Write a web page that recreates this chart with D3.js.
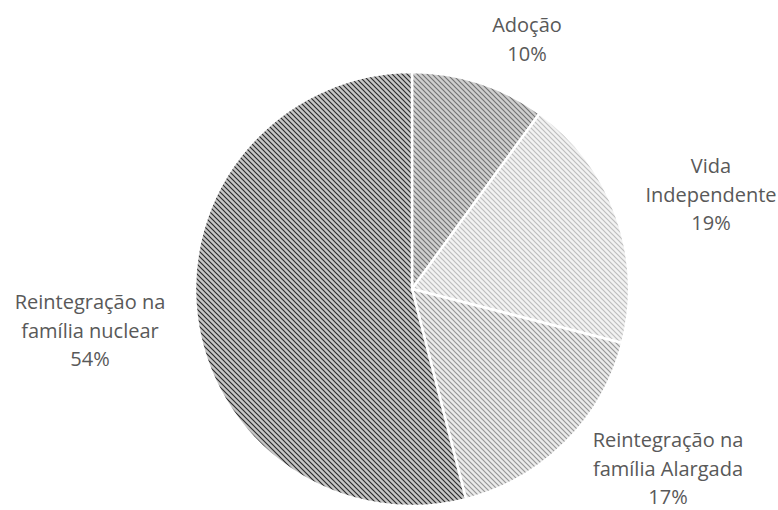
<!DOCTYPE html>
<html>
<head>
<meta charset="utf-8">
<script src="https://cdn.jsdelivr.net/npm/d3@7"></script>
<style>
  body { margin: 0; background: #fff; }
  svg { display: block; }
</style>
</head>
<body>
<script>
// data
var categories = ["Adoção", "Vida Independente", "Reintegração na família Alargada", "Reintegração na família nuclear"];
var values = [10, 19, 17, 54];
var labelLines = [["Adoção", "10%"], ["Vida", "Independente", "19%"], ["Reintegração na", "família Alargada", "17%"], ["Reintegração na", "família nuclear", "54%"]];
var bgColors = ["#cfcfcf", "#f2f2f2", "#ebebeb", "#c6c6c6"];
var lineColors = ["#737373", "#bdbdbd", "#969696", "#2a2a2a"];

// svg
var svgWidth = 778;
var svgHeight = 510;
var cx = 412, cy = 289, radius = 217;

var svg = d3.select("body")
    .append("svg")
    .attr("width", svgWidth)
    .attr("height", svgHeight);

// hatch patterns (downward diagonal)
var defs = svg.append("defs");
var tile = 5;
categories.forEach(function(c, i) {
    var p = defs.append("pattern")
        .attr("id", "hatch" + i)
        .attr("patternUnits", "userSpaceOnUse")
        .attr("width", tile)
        .attr("height", tile);
    p.append("rect").attr("width", tile).attr("height", tile).attr("fill", bgColors[i]);
    p.append("path")
        .attr("d", `M-1,-1 L${tile + 1},${tile + 1} M-1,${tile - 1} L1,${tile + 1} M${tile - 1},-1 L${tile + 1},1`)
        .attr("stroke", lineColors[i])
        .attr("stroke-width", 1.15);
});

var pie = d3.pie().sort(null).value(d => d);
var arc = d3.arc().innerRadius(0).outerRadius(radius);

var g = svg.append("g").attr("transform", `translate(${cx},${cy})`);

g.selectAll("path.slice")
    .data(pie(values))
    .enter()
    .append("path")
    .attr("class", "slice")
    .attr("d", arc)
    .attr("fill", (d, i) => `url(#hatch${i})`)
    .attr("stroke", "#fff")
    .attr("stroke-width", 2.5)
    .attr("stroke-linejoin", "round");

// labels: centre x, first baseline
var labelPos = [[527, 32], [711, 173], [668, 447], [90, 309]];
var lineGap = 28.5;

labelLines.forEach(function(lines, i) {
    var t = svg.append("text")
        .attr("text-anchor", "middle")
        .attr("font-family", "'Open Sans', sans-serif")
        .attr("font-size", 20)
        .attr("fill", "#595959");
    lines.forEach(function(s, j) {
        t.append("tspan")
            .attr("x", labelPos[i][0])
            .attr("y", labelPos[i][1] + j * lineGap)
            .text(s);
    });
});
</script>
</body>
</html>
